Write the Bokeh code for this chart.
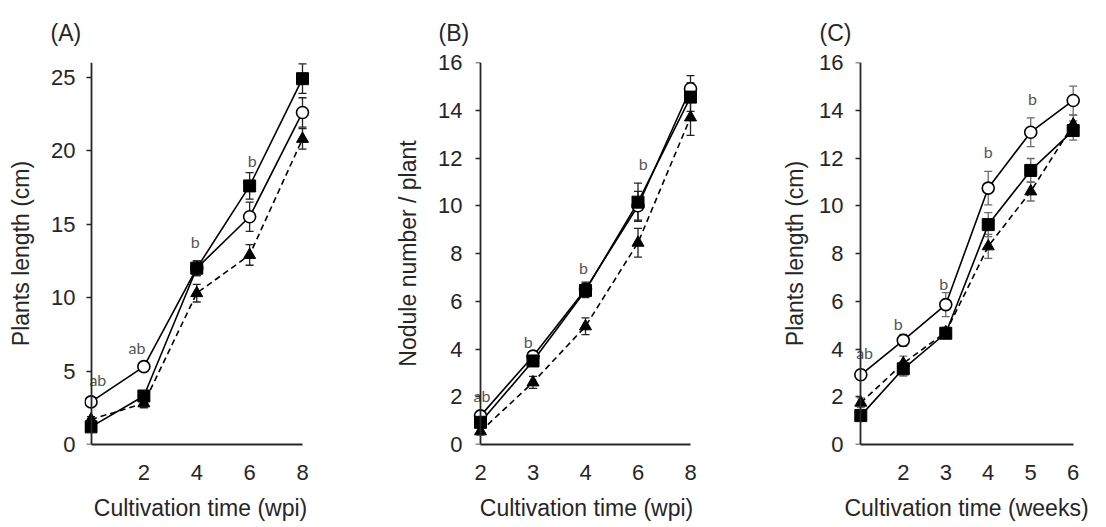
from bokeh.plotting import figure
from bokeh.layouts import row
from bokeh.models import ColumnDataSource, Whisker, TeeHead, Range1d, FixedTicker, LinearAxis
from bokeh.core.properties import value
from bokeh.embed import file_html
from bokeh.resources import INLINE

# ---------------- Panel A : plant length (cm) vs wpi ----------------
a_labels = ["", "2", "4", "6", "8"]
a_open = [2.9, 5.3, 12.0, 15.5, 22.6]
a_open_err = [0.3, 0.3, 0.5, 1.0, 1.0]
a_square = [1.2, 3.3, 12.0, 17.6, 24.9]
a_square_err = [0.3, 0.3, 0.5, 0.9, 1.0]
a_tri = [1.7, 2.8, 10.3, 12.9, 20.8]
a_tri_err = [0.2, 0.3, 0.6, 0.7, 0.7]
a_let_x = [0.13, 0.87, 1.97, 3.05]
a_let_y = [4.4, 6.6, 13.8, 19.3]
a_let_t = ["ab", "ab", "b", "b"]

# ---------------- Panel B : nodule number / plant ----------------
b_labels = ["2", "3", "4", "6", "8"]
b_open = [1.2, 3.7, 6.5, 10.0, 14.9]
b_open_err = [0.2, 0.2, 0.3, 0.6, 0.55]
b_square = [0.93, 3.5, 6.45, 10.15, 14.55]
b_square_err = [0.15, 0.2, 0.3, 0.8, 0.6]
b_tri = [0.55, 2.6, 4.95, 8.45, 13.7]
b_tri_err = [0.15, 0.25, 0.35, 0.6, 0.75]
b_let_x = [0.03, 0.91, 1.96, 3.1]
b_let_y = [2.05, 4.3, 7.4, 11.75]
b_let_t = ["ab", "b", "b", "b"]

# ---------------- Panel C : plant length (cm) vs weeks ----------------
c_labels = ["", "2", "3", "4", "5", "6"]
c_open = [2.92, 4.36, 5.86, 10.74, 13.08, 14.41]
c_open_err = [0.2, 0.25, 0.5, 0.7, 0.6, 0.6]
c_square = [1.21, 3.17, 4.66, 9.21, 11.48, 13.15]
c_square_err = [0.2, 0.3, 0.2, 0.5, 0.5, 0.4]
c_tri = [1.75, 3.4, 4.7, 8.3, 10.6, 13.4]
c_tri_err = [0.2, 0.3, 0.2, 0.5, 0.4, 0.4]
c_let_x = [0.09, 0.88, 1.95, 3.0, 4.04]
c_let_y = [3.87, 5.05, 6.73, 12.28, 14.5]
c_let_t = ["ab", "b", "b", "b", "b"]

FONT = "Liberation Sans"
AX = "#262626"


def panel(tag, labels, ov, oe, sv, se, tv, te, lx, ly, lt, ymax, ystep,
          ytitle, xtitle, fig_w, b_left, frame_w, x0_px, xl_px, tag_left, lab_right,
          title_standoff, err_color):
    n = len(labels) - 1
    scale = (xl_px - x0_px) / n
    a = -(x0_px - b_left) / scale
    b = a + frame_w / scale
    frame_h = 382
    top = 62
    p = figure(width=fig_w, height=527, output_backend="svg", toolbar_location=None,
               x_range=Range1d(a, b), y_range=Range1d(0, ymax),
               frame_width=frame_w, frame_height=frame_h,
               min_border_left=b_left, min_border_top=top, min_border_bottom=527 - top - frame_h,
               min_border_right=fig_w - b_left - frame_w)
    p.outline_line_color = None
    p.grid.visible = False
    p.background_fill_color = "white"
    p.border_fill_color = "white"

    xs = list(range(n + 1))

    # error bars
    for vals, errs in ((tv, te), (ov, oe), (sv, se)):
        src = ColumnDataSource(dict(x=xs, up=[v + e for v, e in zip(vals, errs)],
                                    lo=[v - e for v, e in zip(vals, errs)]))
        w = Whisker(source=src, base="x", upper="up", lower="lo", dimension="height",
                    line_color=err_color, line_width=1.3, level="underlay",
                    upper_head=TeeHead(size=8, line_color=err_color, line_width=1.3),
                    lower_head=TeeHead(size=8, line_color=err_color, line_width=1.3))
        p.add_layout(w)

    # lines
    p.line(xs, tv, line_color="black", line_width=1.6, line_dash="6 4")
    p.line(xs, ov, line_color="black", line_width=1.6)
    p.line(xs, sv, line_color="black", line_width=1.6)
    # markers
    p.scatter(xs, tv, marker="triangle", size=12, fill_color="black", line_color="black")
    p.scatter(xs, ov, marker="circle", size=12, fill_color="white", line_color="black", line_width=1.6)
    p.scatter(xs, sv, marker="square", size=12, fill_color="black", line_color="black")

    # significance letters
    p.text(x=lx, y=ly, text=lt, text_font=value("Lato"), text_font_size="16px",
           text_color="#555555", text_align="center", text_baseline="middle")

    # x axis
    xa = p.xaxis[0]
    xa.ticker = FixedTicker(ticks=[i for i, l in enumerate(labels) if l])
    xa.major_label_overrides = {i: l for i, l in enumerate(labels) if l}
    xa.bounds = (0, n)
    xa.major_tick_line_color = None
    xa.minor_tick_line_color = None
    xa.major_label_standoff = 14
    xa.axis_label = xtitle
    xa.axis_label_standoff = 12
    xa.axis_line_color = AX
    xa.axis_line_width = 1.8

    yticks = FixedTicker(ticks=list(range(0, ymax + 1, ystep)))
    # y axis for labels and title (at the frame edge, no line)
    ya = p.yaxis[0]
    ya.ticker = yticks
    ya.axis_line_color = None
    ya.major_tick_line_color = None
    ya.minor_tick_line_color = None
    ya.major_tick_in = 0
    ya.major_tick_out = 0
    ya.major_label_standoff = b_left - lab_right
    ya.axis_label = ytitle
    ya.axis_label_standoff = title_standoff

    # y axis line and ticks drawn at x = 0
    yl = LinearAxis(ticker=yticks, fixed_location=0, major_tick_in=0, major_tick_out=5,
                    major_label_standoff=0, major_label_text_color=None,
                    axis_line_color=AX, axis_line_width=1.8,
                    major_tick_line_color=AX, major_tick_line_width=1.5,
                    minor_tick_line_color=None)
    p.add_layout(yl, "left")

    for ax in (xa, ya):
        ax.major_label_text_font = FONT
        ax.major_label_text_font_size = "22px"
        ax.major_label_text_color = AX
        ax.axis_label_text_font = FONT
        ax.axis_label_text_font_size = "23px"
        ax.axis_label_text_font_style = "normal"
        ax.axis_label_text_color = AX

    p.title.text = tag
    p.title.align = "left"
    p.title.offset = tag_left - b_left
    p.title.standoff = 33
    p.title.text_font = FONT
    p.title.text_font_size = "23px"
    p.title.text_font_style = "normal"
    p.title.text_color = AX
    return p


pa = panel("(A)", a_labels, a_open, a_open_err, a_square, a_square_err, a_tri, a_tri_err,
           a_let_x, a_let_y, a_let_t, 26, 5, "Plants length (cm)", "Cultivation time (wpi)",
           370, 84, 232, 90.5, 302, 50, 75, 14, "#222222")
pb = panel("(B)", b_labels, b_open, b_open_err, b_square, b_square_err, b_tri, b_tri_err,
           b_let_x, b_let_y, b_let_t, 16, 2, "Nodule number / plant", "Cultivation time (wpi)",
           366, 100, 232, 110, 320, 68, 92, 14, "#222222")
pc = panel("(C)", c_labels, c_open, c_open_err, c_square, c_square_err, c_tri, c_tri_err,
           c_let_x, c_let_y, c_let_t, 16, 2, "Plants length (cm)", "Cultivation time (weeks)",
           370, 114, 232, 124.3, 336.7, 83, 107, 8, "#6b6b6b")

layout = row(pa, pb, pc)
open("out.html", "w").write(file_html(layout, INLINE))
